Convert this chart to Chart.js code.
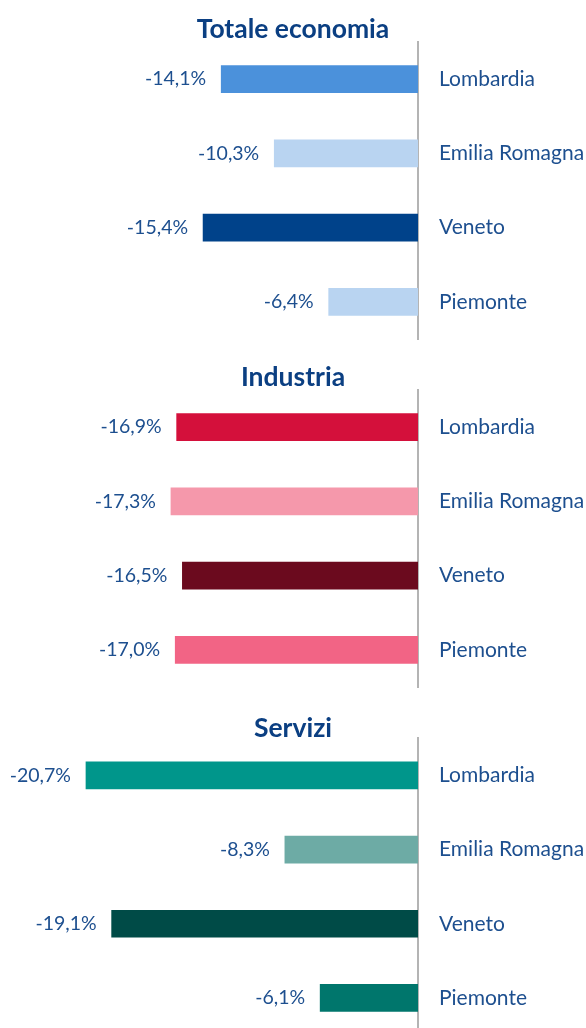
<!DOCTYPE html>
<html>
<head>
<meta charset="utf-8">
<script src="https://cdn.jsdelivr.net/npm/chart.js@4.4.1/dist/chart.umd.min.js"></script>
<style>
  html, body { margin: 0; padding: 0; background: #ffffff; overflow: hidden; width: 586px; height: 1028px; }
  .panel { position: absolute; left: 0; width: 586px; height: 348px; }
</style>
</head>
<body>
<div class="panel" style="top:0px"><canvas id="c0" width="586" height="348"></canvas></div>
<div class="panel" style="top:348px"><canvas id="c1" width="586" height="348"></canvas></div>
<div class="panel" style="top:696px"><canvas id="c2" width="586" height="348"></canvas></div>
<script>
// ---- Data ----
const categories = ['Lombardia', 'Emilia Romagna', 'Veneto', 'Piemonte'];
const panelTitles = ['Totale economia', 'Industria', 'Servizi'];
const totaleValues = [-14.1, -10.3, -15.4, -6.4];
const industriaValues = [-16.9, -17.3, -16.5, -17.0];
const serviziValues = [-20.7, -8.3, -19.1, -6.1];

// ---- Styles ----
const totaleColors = ['#4b91db', '#b9d4f1', '#00428a', '#b9d4f1'];
const industriaColors = ['#d4103b', '#f598ab', '#6b0a1e', '#f26485'];
const serviziColors = ['#00968b', '#6daba5', '#004b47', '#00766c'];
const axisMins = [-29.95, -29.27, -26.06];
const titlePadTop = [19.3, 19.8, 22.5];

const textColor = '#1d4f8f';
const titleColor = '#0b3f82';
const fontFamily = 'Lato, "Open Sans", sans-serif';
const titleSize = 26.5;
const titleLineHeight = 0.75;

function fmt(v) {
  return v.toFixed(1).replace('.', ',') + '%';
}

const valueLabelPlugin = {
  id: 'valueLabels',
  afterDatasetsDraw(chart) {
    const ctx = chart.ctx;
    const meta = chart.getDatasetMeta(0);
    const data = chart.data.datasets[0].data;
    ctx.save();
    ctx.font = '19.5px ' + fontFamily;
    ctx.fillStyle = textColor;
    ctx.textAlign = 'right';
    ctx.textBaseline = 'middle';
    meta.data.forEach((bar, i) => {
      const left = Math.min(bar.x, bar.base);
      ctx.fillText(fmt(data[i]), left - 15, bar.y);
    });
    ctx.restore();
  }
};

function makeChart(id, title, values, colors, xmin, padTop) {
  const lh = titleSize * titleLineHeight;
  return new Chart(document.getElementById(id), {
    type: 'bar',
    data: {
      labels: categories,
      datasets: [{
        data: values,
        backgroundColor: colors,
        borderWidth: 0,
        barThickness: 27
      }]
    },
    options: {
      indexAxis: 'y',
      responsive: false,
      animation: false,
      layout: { padding: { left: 0, right: 0, top: 0, bottom: 9 } },
      plugins: {
        legend: { display: false },
        tooltip: { enabled: false },
        title: {
          display: true,
          text: title,
          color: titleColor,
          font: { family: fontFamily, size: titleSize, weight: 'bold', lineHeight: titleLineHeight },
          padding: { top: padTop, bottom: Math.max(0, 42 - padTop - lh) }
        }
      },
      scales: {
        x: {
          display: false,
          min: xmin,
          max: 0
        },
        y: {
          position: 'right',
          grid: { display: false, drawTicks: false },
          border: { display: true, color: '#b4b4b4', width: 2 },
          ticks: {
            color: textColor,
            padding: 21,
            font: { family: fontFamily, size: 21 }
          },
          afterFit(scale) {
            scale.width = 168;
            scale.paddingTop = 0;
            scale.paddingBottom = 0;
          }
        }
      }
    },
    plugins: [valueLabelPlugin]
  });
}

makeChart('c0', panelTitles[0], totaleValues, totaleColors, axisMins[0], titlePadTop[0]);
makeChart('c1', panelTitles[1], industriaValues, industriaColors, axisMins[1], titlePadTop[1]);
makeChart('c2', panelTitles[2], serviziValues, serviziColors, axisMins[2], titlePadTop[2]);
</script>
</body>
</html>
